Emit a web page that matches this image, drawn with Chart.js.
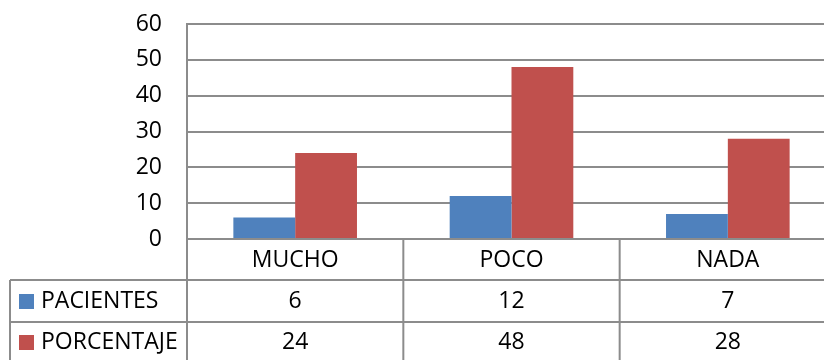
<!DOCTYPE html>
<html>
<head>
<meta charset="utf-8">
<script src="https://cdn.jsdelivr.net/npm/chart.js@4/dist/chart.umd.min.js"></script>
<style>
  html, body { margin: 0; padding: 0; background: #fff; overflow: hidden; }
</style>
</head>
<body>
<canvas id="chart" width="836" height="360"></canvas>
<script>
'use strict';

var categories = ['MUCHO', 'POCO', 'NADA'];
var seriesNames = ['PACIENTES', 'PORCENTAJE'];
var pacientes = [6, 12, 7];
var porcentaje = [24, 48, 28];
var seriesColors = ['#4F81BD', '#C0504D'];

var FAMILY = '"Open Sans", "Noto Sans", sans-serif';
var FONT = '23px ' + FAMILY;
var LINE = '#8c8c8c';

// data table under the plot, drawn from the x scale positions
var tablePlugin = {
  id: 'dataTable',
  afterDraw: function(chart) {
    var ctx = chart.ctx;
    var area = chart.chartArea;
    var x = chart.scales.x;
    var half = (area.right - area.left) / categories.length / 2;
    var top = area.bottom;
    var row1 = top + 41;
    var row2 = row1 + 42;
    var left = 10;
    var values = [pacientes, porcentaje];

    ctx.save();
    ctx.strokeStyle = LINE;
    ctx.lineWidth = 2;
    ctx.beginPath();
    // horizontal rules
    ctx.moveTo(left, row1); ctx.lineTo(chart.width, row1);
    ctx.moveTo(left, row2); ctx.lineTo(chart.width, row2);
    // outer left edge of legend column
    ctx.moveTo(left, row1); ctx.lineTo(left, chart.height);
    // axis line down through table
    ctx.moveTo(area.left, top); ctx.lineTo(area.left, chart.height);
    for (var i = 0; i < categories.length; i++) {
      var edge = x.getPixelForValue(i) + half;
      ctx.moveTo(edge, top); ctx.lineTo(edge, chart.height);
    }
    ctx.stroke();

    ctx.fillStyle = '#000';
    ctx.font = FONT;
    ctx.textAlign = 'center';
    ctx.textBaseline = 'middle';
    for (var c = 0; c < categories.length; c++) {
      var cx = x.getPixelForValue(c);
      ctx.fillText(categories[c], cx, top + 21);
      ctx.fillText(String(values[0][c]), cx, row1 + 21);
      ctx.fillText(String(values[1][c]), cx, row2 + 20);
    }

    ctx.textAlign = 'left';
    var rowsY = [row1 + 21, row2 + 20];
    for (var s = 0; s < seriesNames.length; s++) {
      ctx.fillStyle = seriesColors[s];
      ctx.fillRect(19, rowsY[s] - 7, 15, 15);
      ctx.fillStyle = '#000';
      ctx.fillText(seriesNames[s], 41, rowsY[s]);
    }
    ctx.restore();
  }
};

new Chart(document.getElementById('chart').getContext('2d'), {
  type: 'bar',
  data: {
    labels: categories,
    datasets: [
      { label: seriesNames[0], data: pacientes, backgroundColor: seriesColors[0] },
      { label: seriesNames[1], data: porcentaje, backgroundColor: seriesColors[1] }
    ]
  },
  options: {
    responsive: false,
    animation: false,
    layout: { padding: { top: 24, bottom: 121, left: 0, right: 0 } },
    plugins: { legend: { display: false }, tooltip: { enabled: false } },
    datasets: { bar: { categoryPercentage: 2 / 3.5, barPercentage: 1 } },
    scales: {
      x: { display: false },
      y: {
        min: 0,
        max: 60,
        ticks: { stepSize: 10, color: '#000', font: { family: FAMILY, size: 23 }, padding: 25 },
        grid: { color: LINE, lineWidth: 2, drawTicks: false },
        border: { display: true, color: LINE, width: 2 },
        afterFit: function(scale) {
          scale.width = 187;
          scale.paddingTop = 0;
          scale.paddingBottom = 0;
        }
      }
    }
  },
  plugins: [tablePlugin]
});
</script>
</body>
</html>
